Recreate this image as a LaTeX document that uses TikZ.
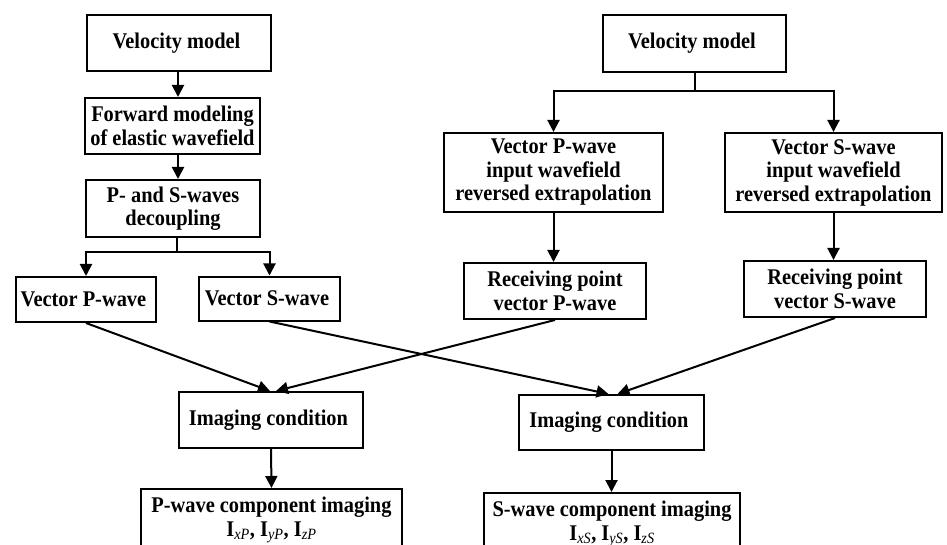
\documentclass[tikz,border=0pt]{standalone}
\usepackage{fontspec}
\setmainfont[FakeStretch = 0.91]{Liberation Serif}
\usepackage{tikz}
\usetikzlibrary{positioning, arrows.meta}

\newcommand{\comp}[1]{\textbf{I}\textsubscript{\normalfont\itshape #1}}

\begin{document}
\begin{tikzpicture}[x = 1pt, y = -1pt, line width = 2pt,
    every node/.style = { draw, align = center, inner sep = 0pt,
      font = \bfseries\fontsize{22.4}{23.5}\selectfont },
    flow/.style = { -{Triangle[length = 12pt, width = 12pt]} }]
    \useasboundingbox (0,0) rectangle (947,545);
    \clip (0,0) rectangle (947,545);

    \node [minimum width = 184, minimum height = 56] (vmA) at (179,43) { Velocity model };
    \node [minimum width = 175, minimum height = 56] (fwd) at (172.5,126) { Forward modeling \\ of elastic wavefield };
    \node [minimum width = 174, minimum height = 57] (dec) at (173,208.5) { P- and S-waves \\ decoupling };
    \node [minimum width = 140, minimum height = 45] (vecP) at (86,299.5) { Vector P-wave };
    \node [minimum width = 141, minimum height = 44] (vecS) at (269.5,298.5) { Vector S-wave };

    \node [minimum width = 183, minimum height = 57] (vmB) at (694.5,43.5) { Velocity model };
    \node [minimum width = 219, minimum height = 79] (inP) at (553.5,172.5) { Vector P-wave \\ input wavefield \\ reversed extrapolation };
    \node [minimum width = 217, minimum height = 79] (inS) at (833.5,172.5) { Vector S-wave \\ input wavefield \\ reversed extrapolation };
    \node [minimum width = 182, minimum height = 56] (recP) at (555,291) { Receiving point \\ vector P-wave };
    \node [minimum width = 182, minimum height = 56] (recS) at (835,289) { Receiving point \\ vector S-wave };

    \node [minimum width = 184, minimum height = 56] (imgP) at (271,420) { Imaging condition };
    \node [minimum width = 185, minimum height = 55] (imgS) at (611.5,422.5) { Imaging condition };
    \node [minimum width = 261, minimum height = 62] (outP) at (271.5,520) { P-wave component imaging \\ \comp{xP}, \comp{yP}, \comp{zP} };
    \node [minimum width = 256, minimum height = 62] (outS) at (612,524) { S-wave component imaging \\ \comp{xS}, \comp{yS}, \comp{zS} };

    \coordinate (splitA) at (177,252);
    \coordinate (splitB) at (694.5,91);

    \draw [flow] ([xshift = -1]vmA.south) -- ([xshift = -1]vmA.south |- fwd.north);
    \draw [flow] ([xshift = 5.5]fwd.south) -- ([xshift = 5.5]fwd.south |- dec.north);
    \draw (dec.south -| splitA) -- (splitA);
    \draw [flow] (splitA) -| (vecP.north);
    \draw [flow] (splitA) -| (vecS.north);

    \draw (vmB.south) -- (splitB);
    \draw [flow] (splitB) -| (inP.north);
    \draw [flow] (splitB) -| (inS.north);
    \draw [flow] (inP.south) -- (inP.south |- recP.north);
    \draw [flow] (inS.south) -- (inS.south |- recS.north);

    \draw [flow] (vecP.south) -- ([xshift = -1]imgP.north);
    \draw [flow] (recP.south) -- ([xshift = 5]imgP.north);
    \draw [flow] (vecS.south) -- ([xshift = -3]imgS.north);
    \draw [flow] (recS.south) -- ([xshift = 6]imgS.north);
    \draw [flow] (imgP.south) -- (outP.north);
    \draw [flow] (imgS.south) -- (imgS.south |- outS.north);
\end{tikzpicture}
\end{document}
